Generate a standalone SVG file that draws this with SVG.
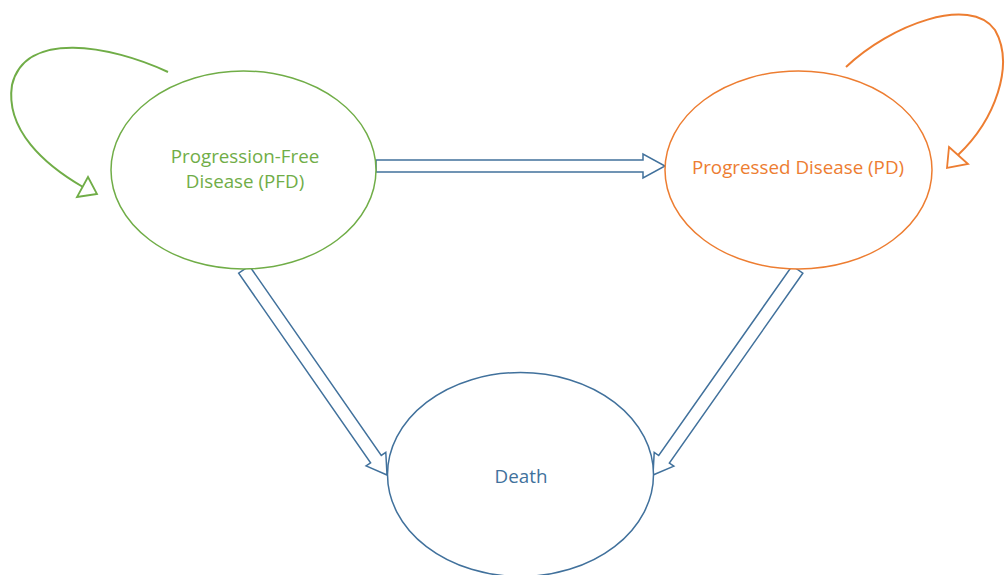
<svg xmlns="http://www.w3.org/2000/svg" width="1007" height="575" viewBox="0 0 1007 575">
  <style>
    .label { font-family: "Open Sans", "Liberation Sans", sans-serif; font-size: 18.8px; text-anchor: middle; }
    .state { fill: #ffffff; stroke-width: 1.5; }
    .flow { fill: #ffffff; stroke: #41719C; stroke-width: 1.5; stroke-linejoin: miter; }
    .loop { fill: none; stroke-width: 2; }
    .tri { fill: #ffffff; stroke-width: 1.8; stroke-linejoin: miter; }
  </style>
  <rect width="1007" height="575" fill="#ffffff"/>

  <g id="connectors">
    <!-- PFD to PD -->
    <path class="flow" d="M376,160 H643 V154 L665,166 L643,178 V172 H376 Z"/>
    <!-- PFD to Death -->
    <path class="flow" transform="translate(244,269.5) rotate(55.17)" d="M0,-6.5 H231 V-12 L250.4,0 L231,12 V6.5 H0 Z"/>
    <!-- PD to Death -->
    <path class="flow" transform="translate(797.5,269.5) rotate(125.12)" d="M0,-6.5 H232 V-12 L251.2,0 L232,12 V6.5 H0 Z"/>
    <!-- PFD self loop -->
    <path class="loop" stroke="#70AD47" d="M168,72 C110,45 25,30 12,85 C5,130 45,165 83,187"/>
    <path class="tri" stroke="#70AD47" d="M88,177 L97,194 L77,197 Z"/>
    <!-- PD self loop -->
    <path class="loop" stroke="#ED7D31" d="M846,67 C890,25 970,-5 995,30 C1015,65 995,120 958,155"/>
    <path class="tri" stroke="#ED7D31" d="M949,147 L968,164 L947,168 Z"/>
  </g>

  <g id="node-pfd">
    <ellipse class="state" stroke="#70AD47" cx="243.5" cy="170" rx="132.5" ry="99"/>
    <text class="label" fill="#70AD47" x="245" y="163">Progression-Free</text>
    <text class="label" fill="#70AD47" x="245" y="188">Disease (PFD)</text>
  </g>

  <g id="node-pd">
    <ellipse class="state" stroke="#ED7D31" cx="798.5" cy="170" rx="133.5" ry="99"/>
    <text class="label" fill="#ED7D31" x="798" y="174">Progressed Disease (PD)</text>
  </g>

  <g id="node-death">
    <ellipse class="state" stroke="#41719C" cx="520.5" cy="474.5" rx="133" ry="102"/>
    <text class="label" fill="#41719C" x="521" y="483">Death</text>
  </g>
</svg>
